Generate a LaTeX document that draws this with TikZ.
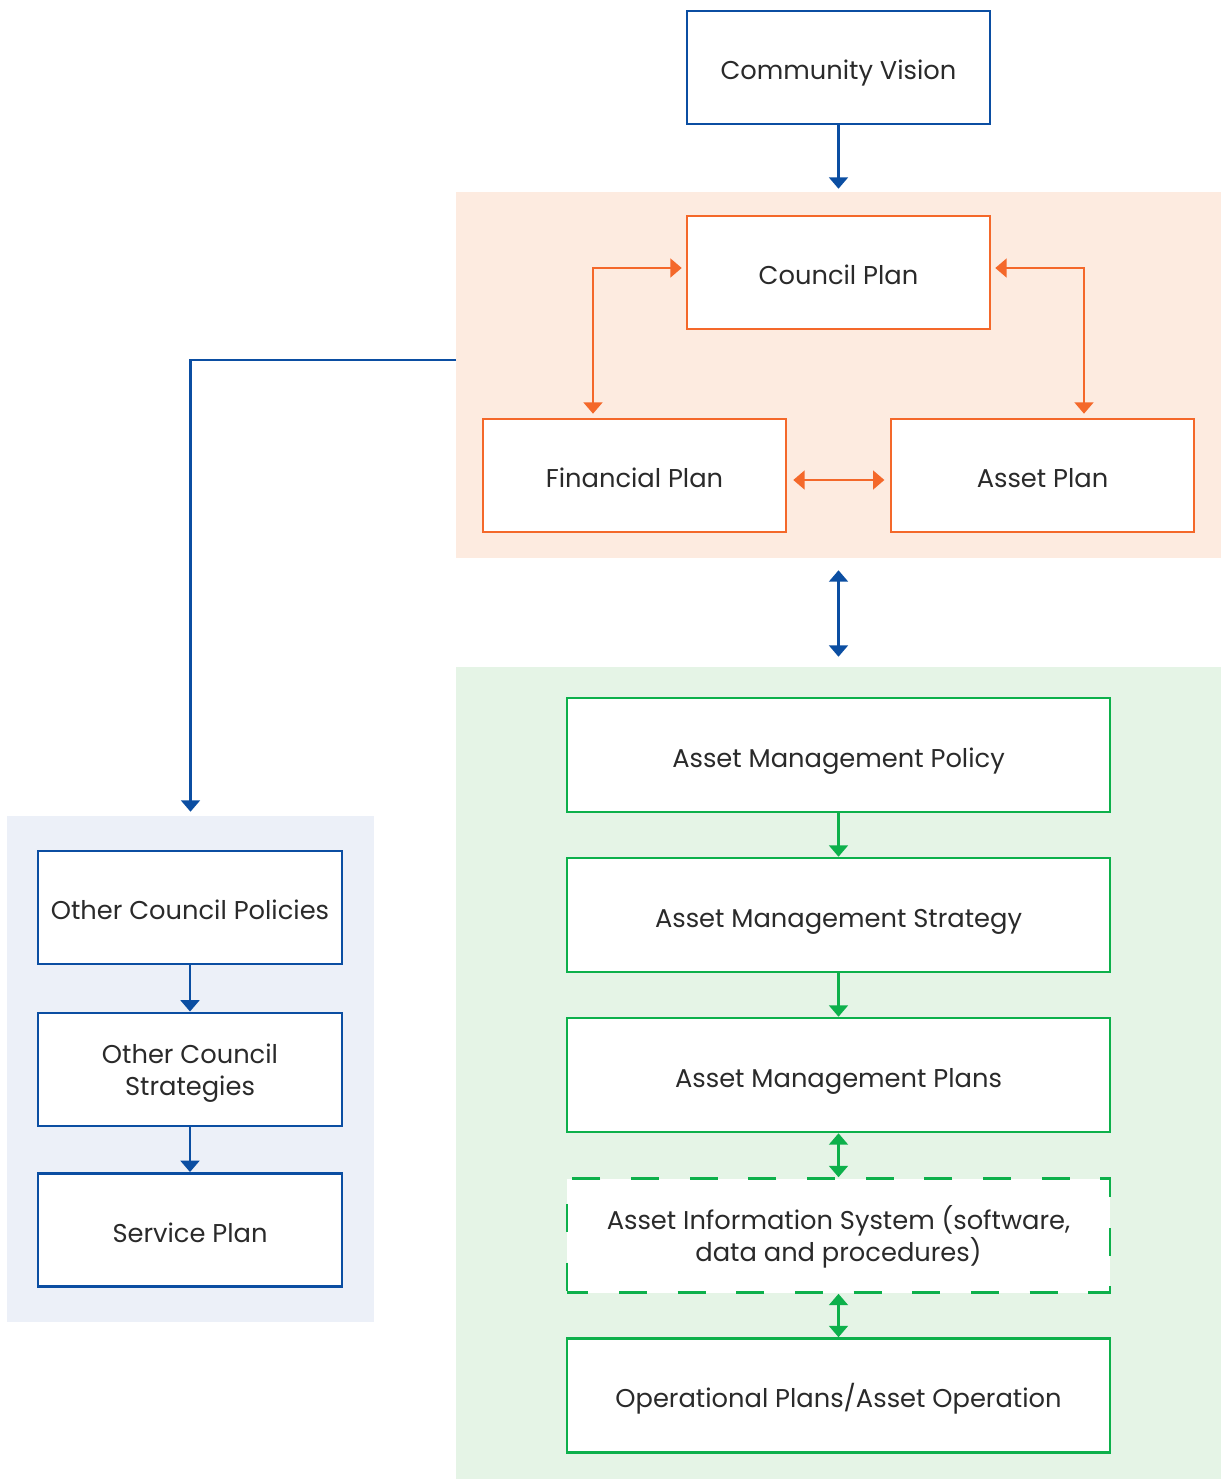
\documentclass[tikz,border=0pt]{standalone}
\usepackage{fontspec}
\setmainfont{Poppins}
\usetikzlibrary{arrows.meta,calc}
\definecolor{cblue}{HTML}{0B4EA2}
\definecolor{corange}{HTML}{F4682A}
\definecolor{cgreen}{HTML}{0DB04B}
\definecolor{porange}{HTML}{FDEBE0}
\definecolor{pgreen}{HTML}{E5F4E6}
\definecolor{pblue}{HTML}{ECF0F8}
\definecolor{ctext}{HTML}{2A2A2A}
\newcommand{\firstln}{\rule{0pt}{19.5pt}}
\newcommand{\lastln}{\rule[-0.5pt]{0pt}{0pt}}
\begin{document}
\begin{tikzpicture}[x=0.75pt,y=-0.75pt,
  box/.style={draw, line width=1.9pt, fill=white, align=center, text=ctext,
    font=\fontsize{19.3}{24}\selectfont, inner sep=0pt},
  one/.style={text height=19pt, text depth=1pt},
  topbox/.style={box, one, minimum width=227.25pt, minimum height=84.75pt},
  greenbox/.style={box, draw=cgreen, minimum width=407.25pt, minimum height=85.5pt},
  leftbox/.style={box, draw=cblue, minimum width=228pt, minimum height=85pt},
  panel/.style={draw=none, inner sep=0pt},
  conn/.style={line width=1.9pt},
  tip/.style={-{Triangle[width=14pt,length=8.5pt]}},
  dtip/.style={{Triangle[width=14pt,length=8.5pt]}-{Triangle[width=14pt,length=8.5pt]}},
]
\useasboundingbox (0,0) rectangle (1221,1479);
% panels
\node[panel, fill=porange, minimum width=573.75pt, minimum height=274.5pt] (opanel) at (838.5,375) {};
\node[panel, fill=pgreen, minimum width=573.75pt, minimum height=609pt] (gpanel) at (838.5,1073) {};
\node[panel, fill=pblue, minimum width=275.25pt, minimum height=379.5pt] (bpanel) at (190.5,1069) {};
% top boxes
\node[topbox, draw=cblue] (vision) at (838.5,67.5) {Community Vision};
\node[topbox, draw=corange] (council) at (838.5,272.5) {Council Plan};
\node[topbox, draw=corange] (fin) at (634.5,475.5) {Financial Plan};
\node[topbox, draw=corange] (asset) at (1042.5,475.5) {Asset Plan};
% green boxes
\node[greenbox, one] (policy) at (838.5,755) {Asset Management Policy};
\node[greenbox, one] (strategy) at (838.5,915) {Asset Management Strategy};
\node[greenbox, one] (plans) at (838.5,1075) {Asset Management Plans};
\node[greenbox, dash pattern=on 21pt off 23pt, dash phase=5pt] (ais) at (838.5,1235.5) {\firstln Asset Information System (software,\\data and procedures)\lastln};
\node[greenbox, one] (ops) at (838.5,1395.5) {Operational Plans/Asset Operation};
% left boxes
\node[leftbox, one] (ocp) at (190,907.5) {Other Council Policies};
\node[leftbox] (ocs) at (190,1069.5) {\firstln Other Council\\Strategies\lastln};
\node[leftbox, one] (service) at (190,1230) {Service Plan};
% connectors
\draw[conn, cblue, tip, shorten >=2.25pt] (vision) -- (opanel);
\draw[conn, cblue, dtip, shorten <=9pt, shorten >=7.5pt] (opanel) -- (gpanel);
\coordinate (bstart) at (456,360);
\draw[conn, cblue, tip, shorten >=3pt] (bstart) -| (bpanel.north);
\draw[conn, corange, dtip, shorten <=3pt, shorten >=3pt] ($(fin.north)+(-41.5,0)$) |- ($(council.west)+(0,-4.5)$);
\draw[conn, corange, dtip, shorten <=3pt, shorten >=3pt] ($(asset.north)+(41.5,0)$) |- ($(council.east)+(0,-4.5)$);
\draw[conn, corange, dtip, shorten <=4.5pt, shorten >=4pt] ($(fin.east)+(0,4.5)$) -- ($(asset.west)+(0,4.5)$);
\draw[conn, cgreen, tip] (policy) -- (strategy);
\draw[conn, cgreen, tip] (strategy) -- (plans);
\draw[conn, cgreen, dtip] (plans) -- (ais);
\draw[conn, cgreen, dtip] (ais) -- (ops);
\draw[conn, cblue, tip] (ocp) -- (ocs);
\draw[conn, cblue, tip] (ocs) -- (service);
\end{tikzpicture}
\end{document}
